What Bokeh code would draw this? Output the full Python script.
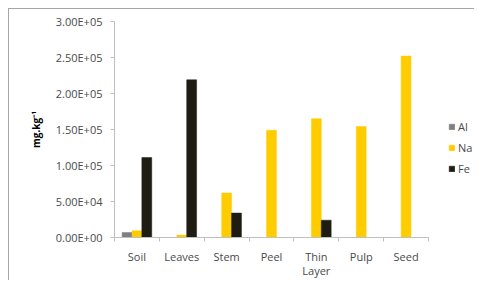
from bokeh.plotting import figure
from bokeh.models import ColumnDataSource, FixedTicker, Range1d, Legend, LegendItem
from bokeh.embed import file_html
from bokeh.resources import INLINE

categories = ["Soil", "Leaves", "Stem", "Peel", "Thin\nLayer", "Pulp", "Seed"]
al = [7000, 0, 0, 0, 0, 0, 0]
na = [9300, 3300, 61700, 149000, 165000, 154000, 252000]
fe = [111000, 219000, 33900, 0, 24000, 0, 0]
series_names = ["Al", "Na", "Fe"]
series_colors = ["#7f7f7f", "#ffcc00", "#1f1d12"]
y_ticks = [0, 50000, 100000, 150000, 200000, 250000, 300000]
y_tick_labels = ["0.00E+00", "5.00E+04", "1.00E+05", "1.50E+05", "2.00E+05", "2.50E+05", "3.00E+05"]

FONT = "Open Sans"
TXT = "#4a4a4a"
n = len(categories)
centers = [i + 0.5 for i in range(n)]

p = figure(width=474, height=280, output_backend="svg", toolbar_location=None,
           x_range=Range1d(0, n * 360 / 314), y_range=Range1d(0, 300000),
           min_border_left=114, min_border_top=21, min_border_bottom=43, min_border_right=0)
p.title = None
p.outline_line_color = None
p.border_fill_alpha = 0
p.background_fill_color = "white"
p.grid.visible = False
p.styles = {
    "background": "linear-gradient(#a6a6a6, #a6a6a6) 8px 8px / 1px 100% no-repeat, "
                  "linear-gradient(#a6a6a6, #a6a6a6) 8px 8px / 100% 1px no-repeat, white",
}

bar_w = 0.22
offsets = [-bar_w, 0, bar_w]
renderers = []
for vals, name, col, off in zip([al, na, fe], series_names, series_colors, offsets):
    src = ColumnDataSource(dict(x=[c + off for c in centers], top=vals))
    r = p.vbar(x="x", top="top", width=bar_w, source=src, fill_color=col, line_color=col, line_width=0.5)
    renderers.append(r)

legend = Legend(items=[LegendItem(label=nm, renderers=[r]) for nm, r in zip(series_names, renderers)],
                location=(334, 61), border_line_color=None, background_fill_alpha=0,
                glyph_width=7, glyph_height=7, label_text_font=FONT, label_text_font_size="11px",
                label_text_color=TXT, spacing=6, margin=0, padding=0, label_standoff=3)
p.add_layout(legend, "center")

xa = p.xaxis[0]
xa.bounds = (0, n)
xa.ticker = FixedTicker(ticks=centers, minor_ticks=list(range(n + 1)))
xa.major_label_overrides = {c: lab for c, lab in zip(centers, categories)}
xa.major_tick_line_color = None
xa.major_tick_out = 4
xa.major_tick_in = 0
xa.minor_tick_line_color = "#bfbfbf"
xa.minor_tick_out = 4
xa.minor_tick_in = 0
xa.axis_line_color = "#bfbfbf"
xa.major_label_text_font = FONT
xa.major_label_text_font_size = "11px"
xa.major_label_text_color = TXT
xa.major_label_text_line_height = 0.95
xa.major_label_standoff = 7

ya = p.yaxis[0]
ya.ticker = FixedTicker(ticks=y_ticks, minor_ticks=[])
ya.major_label_overrides = {t: lab for t, lab in zip(y_ticks, y_tick_labels)}
ya.axis_line_color = "#bfbfbf"
ya.major_tick_line_color = "#bfbfbf"
ya.major_tick_out = 4
ya.major_tick_in = 0
ya.major_label_text_font = FONT
ya.major_label_text_font_size = "11px"
ya.major_label_text_color = TXT
ya.major_label_standoff = 8
ya.axis_label = "mg.kg\u207b\u00b9"
ya.axis_label_text_font = FONT
ya.axis_label_text_font_size = "10px"
ya.axis_label_text_font_style = "bold"
ya.axis_label_text_color = "#000000"
ya.axis_label_standoff = 10

open("out.html", "w").write(file_html(p, INLINE))
